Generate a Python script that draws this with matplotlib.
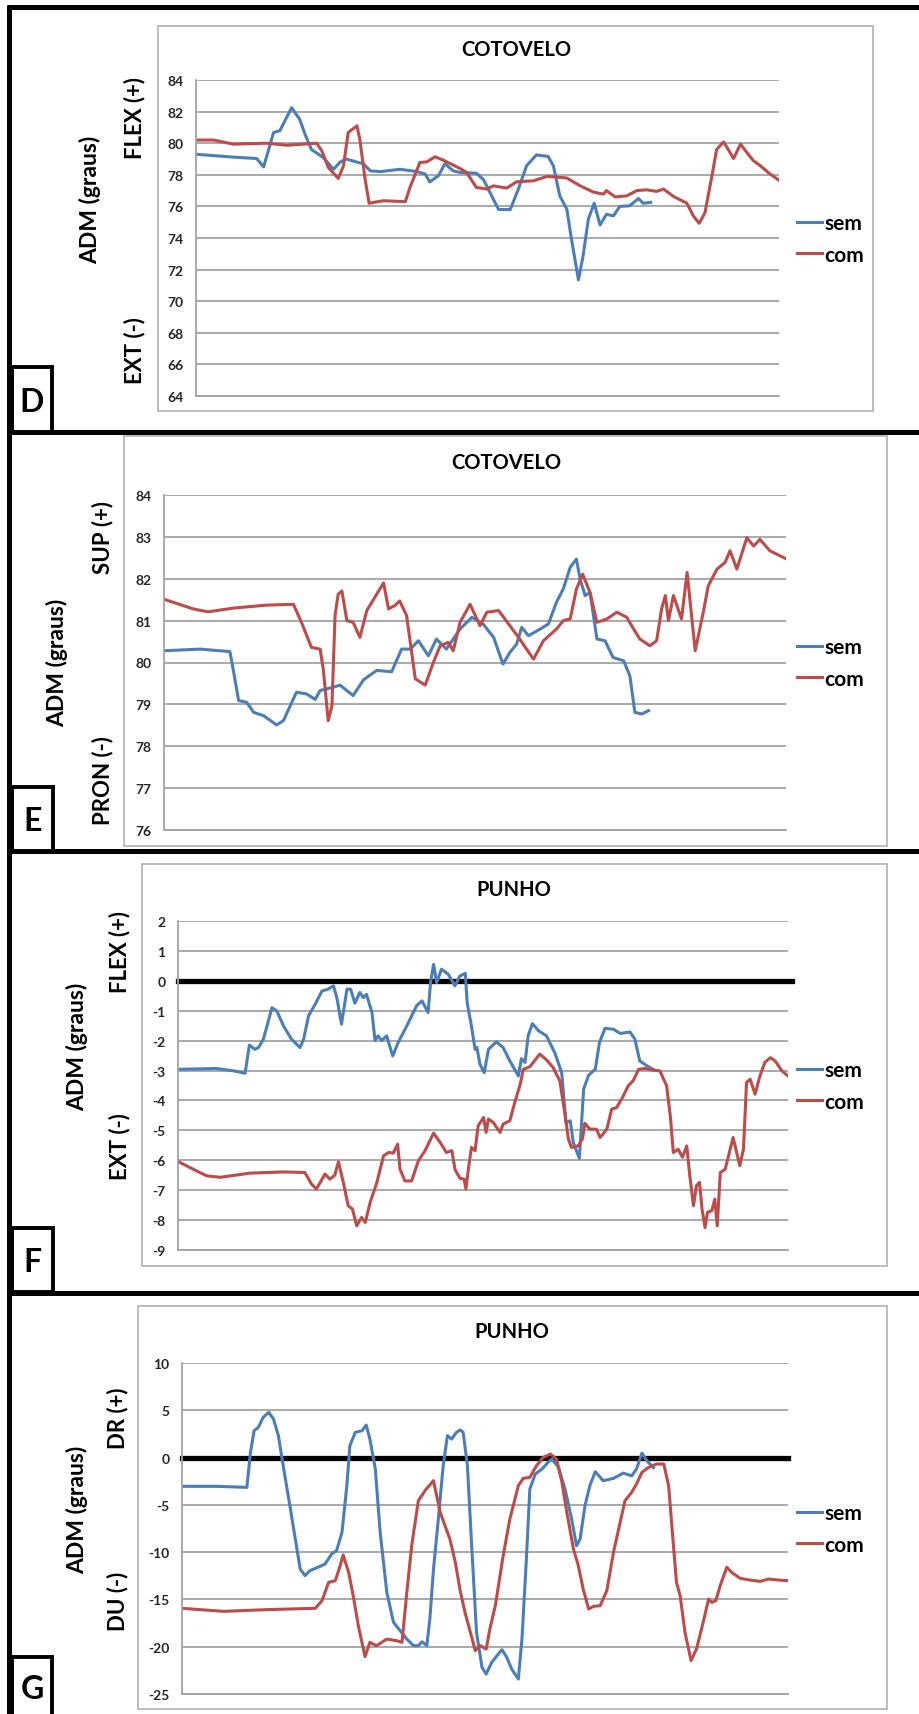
import matplotlib
matplotlib.use("Agg")
import matplotlib.pyplot as plt
from matplotlib.patches import Rectangle
from matplotlib.lines import Line2D

plt.rcParams['font.family'] = ['Lato', 'DejaVu Sans']
plt.rcParams['font.weight'] = 'bold'
plt.rcParams['axes.unicode_minus'] = False

# ---- data (x = sample index, 0..1000 across the plot) ----
# D: cotovelo flex/ext
D_SEM_X = [0, 64, 104, 116, 133, 144, 164, 178, 187, 198, 218, 236, 247, 258, 276, 287, 299, 316, 350, 379,
           393, 401, 416, 427, 441, 453, 481, 493, 504, 519, 539, 553, 567, 584, 604, 613, 624, 636, 644, 656,
           664, 673, 683, 693, 704, 716, 727, 744, 759, 767, 780]
D_SEM = [79.3, 79.12, 79.03, 78.5, 80.67, 80.8, 82.25, 81.5, 80.57, 79.6, 79.1, 78.35, 78.8, 79.0, 78.8, 78.7,
         78.25, 78.2, 78.35, 78.2, 78.05, 77.55, 77.95, 78.7, 78.25, 78.15, 78.1, 77.7, 76.9, 75.8, 75.8, 77.1,
         78.57, 79.26, 79.16, 78.57, 76.67, 75.83, 73.94, 71.35, 72.88, 75.2, 76.2, 74.82, 75.5, 75.4, 76.0,
         76.04, 76.5, 76.2, 76.25]
D_COM_X = [0, 30, 64, 121, 156, 207, 216, 227, 244, 253, 261, 276, 281, 290, 297, 321, 359, 367, 384, 396,
           410, 424, 453, 464, 481, 499, 510, 533, 550, 579, 602, 636, 659, 682, 699, 704, 719, 739, 756, 773,
           790, 802, 819, 842, 853, 863, 873, 885, 893, 905, 913, 922, 934, 945, 956, 967, 985, 1000]
D_COM = [80.2, 80.2, 79.94, 80.0, 79.87, 80.0, 79.5, 78.46, 77.77, 78.57, 80.67, 81.1, 80.25, 77.73, 76.2,
         76.36, 76.3, 77.2, 78.78, 78.82, 79.14, 78.93, 78.4, 78.15, 77.2, 77.1, 77.3, 77.16, 77.56, 77.62,
         77.9, 77.8, 77.3, 76.9, 76.78, 77.0, 76.6, 76.67, 77.0, 77.05, 76.95, 77.1, 76.63, 76.2, 75.4, 74.93,
         75.6, 77.94, 79.6, 80.08, 79.6, 79.03, 79.94, 79.4, 78.9, 78.6, 78.04, 77.66]

# E: cotovelo sup/pron
E_SEM_X = [0, 58, 106, 112, 120, 133, 144, 160, 181, 192, 203, 213, 229, 243, 251, 272, 283, 304, 321, 342,
           366, 382, 396, 409, 425, 438, 454, 476, 495, 513, 530, 545, 556, 567, 575, 586, 605, 618, 631, 642,
           653, 663, 669, 677, 685, 696, 709, 722, 739, 749, 757, 768, 779]
E_SEM = [80.28, 80.32, 80.26, 79.77, 79.09, 79.05, 78.81, 78.73, 78.51, 78.61, 78.97, 79.29, 79.25, 79.12,
         79.33, 79.41, 79.46, 79.21, 79.59, 79.81, 79.78, 80.32, 80.32, 80.52, 80.16, 80.56, 80.32, 80.8,
         81.08, 80.92, 80.6, 79.96, 80.24, 80.44, 80.84, 80.64, 80.8, 80.92, 81.44, 81.76, 82.27, 82.47,
         81.99, 81.6, 81.67, 80.56, 80.52, 80.12, 80.04, 79.68, 78.81, 78.77, 78.85]
E_COM_X = [0, 47, 71, 112, 165, 208, 221, 237, 251, 256, 264, 270, 275, 280, 286, 294, 304, 315, 326, 337,
           353, 361, 371, 379, 390, 404, 420, 433, 444, 457, 465, 476, 492, 508, 519, 538, 556, 570, 594, 610,
           631, 642, 653, 663, 673, 685, 696, 712, 728, 744, 755, 765, 781, 792, 800, 806, 811, 819, 832, 841,
           854, 867, 875, 889, 902, 910, 921, 937, 948, 958, 974, 990, 1000]
E_COM = [81.51, 81.28, 81.21, 81.3, 81.37, 81.39, 80.96, 80.36, 80.32, 79.85, 78.61, 78.97, 81.12, 81.63,
         81.71, 81.0, 80.96, 80.6, 81.24, 81.51, 81.9, 81.28, 81.36, 81.47, 81.12, 79.61, 79.46, 80.0, 80.4,
         80.48, 80.28, 80.96, 81.39, 80.88, 81.2, 81.24, 80.88, 80.6, 80.08, 80.52, 80.8, 81.0, 81.04, 81.75,
         82.11, 81.67, 80.96, 81.04, 81.2, 81.08, 80.8, 80.56, 80.4, 80.52, 81.28, 81.6, 81.0, 81.6, 81.04,
         82.15, 80.28, 81.2, 81.83, 82.23, 82.39, 82.67, 82.23, 82.98, 82.78, 82.94, 82.67, 82.55, 82.48]

# F: punho flex/ext
F_SEM_X = [0, 63, 91, 110, 117, 126, 132, 140, 154, 162, 173, 186, 200, 206, 214, 225, 236, 246, 255, 261,
           268, 277, 283, 290, 298, 304, 309, 318, 323, 328, 334, 342, 352, 361, 375, 391, 400, 410, 414, 419,
           424, 432, 443, 454, 462, 471, 474, 481, 487, 490, 495, 502, 509, 522, 533, 544, 558, 563, 569, 574,
           581, 591, 604, 618, 629, 636, 643, 648, 658, 665, 673, 684, 691, 700, 714, 725, 741, 749, 757, 771,
           779]
F_SEM = [-2.96, -2.93, -3.01, -3.09, -2.15, -2.29, -2.23, -1.95, -0.9, -1.01, -1.51, -1.95, -2.23, -1.95,
         -1.17, -0.78, -0.34, -0.28, -0.17, -0.62, -1.45, -0.28, -0.28, -0.75, -0.39, -0.56, -0.45, -1.06,
         -2.0, -1.84, -2.0, -1.84, -2.51, -2.06, -1.51, -0.84, -0.67, -1.06, -0.06, 0.55, -0.06, 0.39, 0.22,
         -0.17, 0.16, 0.25, -0.73, -1.51, -2.29, -2.23, -2.79, -3.07, -2.29, -2.04, -2.23, -2.68, -3.18,
         -2.6, -2.73, -1.84, -1.43, -1.67, -1.84, -2.42, -3.07, -4.74, -4.68, -5.41, -5.94, -3.62, -3.16,
         -2.96, -2.06, -1.59, -1.62, -1.76, -1.71, -1.95, -2.68, -2.87, -2.96]
F_COM_X = [0, 25, 47, 69, 118, 173, 208, 219, 227, 241, 249, 257, 263, 271, 279, 286, 293, 301, 307, 315,
           326, 337, 345, 353, 360, 364, 372, 383, 394, 405, 419, 430, 440, 449, 454, 462, 469, 472, 476, 481,
           487, 492, 501, 505, 509, 517, 528, 533, 544, 552, 561, 566, 577, 593, 604, 615, 626, 634, 640, 645,
           656, 663, 667, 675, 686, 692, 703, 711, 719, 730, 738, 746, 755, 766, 777, 790, 801, 807, 812, 820,
           827, 834, 839, 845, 850, 855, 859, 864, 868, 875, 880, 884, 889, 897, 910, 921, 927, 932, 938, 946,
           954, 962, 971, 979, 990, 1000]
F_COM = [-6.04, -6.3, -6.52, -6.57, -6.43, -6.39, -6.41, -6.8, -6.96, -6.46, -6.63, -6.5, -6.05, -6.74,
         -7.52, -7.63, -8.19, -7.91, -8.08, -7.41, -6.74, -5.85, -5.74, -5.76, -5.46, -6.3, -6.69, -6.69,
         -6.02, -5.68, -5.09, -5.41, -5.74, -5.68, -6.3, -6.6, -6.63, -6.96, -6.3, -5.57, -5.68, -4.85, -4.57,
         -5.07, -4.62, -4.74, -5.07, -4.79, -4.68, -4.07, -3.46, -2.96, -2.87, -2.45, -2.64, -2.9, -3.35,
         -4.4, -5.29, -5.57, -5.52, -5.29, -4.76, -4.96, -4.96, -5.24, -4.96, -4.29, -4.24, -3.85, -3.51,
         -3.35, -2.96, -2.93, -2.98, -3.01, -3.51, -4.51, -5.74, -5.63, -5.9, -5.52, -6.52, -7.52, -6.85,
         -6.74, -7.63, -8.25, -7.74, -7.69, -7.3, -8.19, -6.41, -6.3, -5.24, -6.18, -5.63, -3.4, -3.29, -3.79,
         -3.18, -2.73, -2.57, -2.68, -3.01, -3.18]

# G: punho desvio radial/ulnar
G_SEM_X = [0, 57, 107, 113, 119, 126, 134, 143, 151, 159, 167, 178, 187, 195, 203, 211, 228, 236, 247, 255,
           264, 272, 277, 286, 297, 304, 310, 319, 327, 338, 349, 360, 371, 382, 390, 396, 404, 409, 415, 423,
           431, 438, 445, 453, 459, 464, 471, 478, 486, 495, 502, 511, 522, 528, 536, 544, 555, 561, 568, 574,
           583, 594, 605, 610, 621, 632, 643, 651, 657, 665, 673, 682, 695, 712, 728, 742, 750, 759, 767, 778]
G_SEM = [-3.04, -3.04, -3.15, 0.55, 2.84, 3.2, 4.25, 4.78, 4.08, 2.32, -0.86, -5.09, -8.61, -11.78, -12.49,
         -11.96, -11.5, -11.25, -10.2, -9.84, -7.91, -2.97, 1.26, 2.67, 2.84, 3.44, 1.96, -1.21, -7.91, -14.25,
         -17.42, -18.3, -19.19, -19.89, -19.89, -19.47, -19.89, -17.07, -11.78, -6.5, -0.86, 2.32, 1.96, 2.67,
         2.92, 2.67, -0.86, -9.32, -18.48, -22.18, -22.89, -21.66, -20.77, -20.31, -21.13, -22.36, -23.42,
         -19.19, -11.07, -3.32, -1.74, -1.21, -0.43, -0.15, -0.99, -3.32, -6.5, -9.32, -8.61, -5.09, -2.97,
         -1.49, -2.45, -2.2, -1.64, -1.93, -1.21, 0.48, -0.33, -1.06]
G_COM_X = [0, 68, 140, 220, 231, 242, 253, 261, 266, 275, 283, 291, 302, 310, 321, 338, 354, 363, 371, 379,
           390, 401, 415, 426, 442, 451, 459, 467, 484, 492, 502, 508, 517, 530, 541, 555, 563, 574, 585, 596,
           608, 618, 627, 635, 646, 654, 662, 671, 679, 690, 701, 712, 723, 731, 742, 750, 759, 770, 783, 795,
           803, 811, 816, 822, 830, 840, 849, 860, 869, 874, 881, 888, 899, 907, 921, 937, 954, 968, 984, 1000]
G_COM = [-15.94, -16.26, -16.08, -15.94, -15.13, -13.19, -13.02, -11.43, -10.3, -12.14, -14.78, -17.78,
         -21.05, -19.54, -19.89, -19.19, -19.36, -19.54, -14.25, -9.32, -4.56, -3.5, -2.44, -5.79, -8.61,
         -11.07, -14.07, -16.37, -20.42, -19.89, -20.24, -18.13, -15.66, -10.37, -6.5, -2.97, -2.2, -2.09,
         -0.86, 0.02, 0.37, -0.15, -2.62, -5.79, -9.67, -11.43, -13.9, -16.01, -15.73, -15.66, -14.07, -10.02,
         -6.85, -4.56, -3.68, -2.8, -1.56, -1.04, -0.68, -0.68, -2.97, -9.32, -13.19, -14.6, -18.48, -21.47,
         -20.24, -17.42, -14.96, -15.31, -15.13, -13.55, -11.6, -12.14, -12.77, -12.95, -13.09, -12.84,
         -12.95, -13.02]

SERIES_NAMES = ['sem', 'com']
LETTERS = ['D', 'E', 'F', 'G']
TITLES = ['COTOVELO', 'COTOVELO', 'PUNHO', 'PUNHO']
POS_LABELS = ['FLEX (+)', 'SUP (+)', 'FLEX (+)', 'DR (+)']
NEG_LABELS = ['EXT (-)', 'PRON (-)', 'EXT (-)', 'DU (-)']
YLIMS = [(64, 84), (76, 84), (-9, 2), (-25, 10)]
YSTEPS = [2, 1, 1, 5]

# ---- layout in reference pixels ----
W, H = 920, 1715
BLUE = '#4A7EBB'
RED = '#BE4B48'
GRID = '#A3A3A3'

layout = [
    dict(frame=(158, 27, 873, 412), plot=(196, 81, 779, 397), title=(516, 50), adm=(90, 200),
         side_x=135, pos_y=118, neg_y=351, leg_y=240, box=(12, 368, 52, 433), zero=None),
    dict(frame=(124, 437, 887, 847), plot=(164, 496, 786, 831), title=(506, 463), adm=(57, 663),
         side_x=103, pos_y=538, neg_y=781, leg_y=664, box=(12, 788, 53, 852), zero=None),
    dict(frame=(142, 865, 887, 1267), plot=(178, 922, 788, 1251), title=(514, 890), adm=(77, 1047),
         side_x=120, pos_y=952, neg_y=1147, leg_y=1087, box=(12, 1229, 53, 1293), zero=1.006),
    dict(frame=(138, 1307, 887, 1710), plot=(182, 1364, 788, 1695), title=(512, 1332), adm=(77, 1510),
         side_x=118, pos_y=1418, neg_y=1601, leg_y=1530, box=(12, 1658, 52, 1717), zero=1.0),
]
data = [(D_SEM_X, D_SEM, D_COM_X, D_COM), (E_SEM_X, E_SEM, E_COM_X, E_COM),
        (F_SEM_X, F_SEM, F_COM_X, F_COM), (G_SEM_X, G_SEM, G_COM_X, G_COM)]


def fx(x):
    return x / W


def fy(y):
    return 1 - y / H


def rect(x0, y0, x1, y1):
    return [fx(x0), fy(y1), (x1 - x0) / W, (y1 - y0) / H]


fig = plt.figure(figsize=(W / 100, H / 100), dpi=100)
fig.patch.set_facecolor('white')

for i, lay in enumerate(layout):
    xs, ys, xc, yc = data[i]

    # chart area frame
    x0, y0, x1, y1 = lay['frame']
    fig.add_artist(Rectangle((fx(x0), fy(y1)), (x1 - x0) / W, (y1 - y0) / H,
                             transform=fig.transFigure, fill=False, ec='#B0B0B0', lw=1.2))

    ax = fig.add_axes(rect(*lay['plot']))
    lo, hi = YLIMS[i]
    ax.set_xlim(0, 1000)
    ax.set_ylim(lo, hi)
    ax.set_yticks(range(lo, hi + 1, YSTEPS[i]))
    ax.set_xticks([])
    ax.grid(axis='y', color=GRID, lw=1.3)
    ax.set_axisbelow(True)
    for s in ['top', 'right']:
        ax.spines[s].set_visible(False)
    for s in ['left', 'bottom']:
        ax.spines[s].set_color(GRID)
        ax.spines[s].set_linewidth(1.3)
    ax.tick_params(axis='y', length=0, pad=9, labelsize=10, labelcolor='#262626')

    if lay['zero'] is not None:
        ax.axhline(0, xmin=0, xmax=lay['zero'], color='black', lw=3.8, clip_on=False, zorder=1.5)

    ax.plot(xs, ys, color=BLUE, lw=2.2, label=SERIES_NAMES[0], solid_joinstyle='round')
    ax.plot(xc, yc, color=RED, lw=2.2, label=SERIES_NAMES[1], solid_joinstyle='round')

    ax.legend(loc='center left', bbox_to_anchor=(fx(797), fy(lay['leg_y'])),
              bbox_transform=fig.transFigure, frameon=False, fontsize=15,
              handlelength=1.2, handletextpad=0.12, labelspacing=0.55,
              borderpad=0, borderaxespad=0)

    tx, ty = lay['title']
    fig.text(fx(tx), fy(ty), TITLES[i], ha='center', va='center', fontsize=14.5, weight='bold')

    ax_, ay_ = lay['adm']
    fig.text(fx(ax_), fy(ay_), 'ADM (graus)', rotation=90, ha='center', va='center',
             fontsize=16.5, weight='bold')
    fig.text(fx(lay['side_x']), fy(lay['pos_y']), POS_LABELS[i], rotation=90, ha='center',
             va='center', fontsize=16, weight='bold')
    fig.text(fx(lay['side_x']), fy(lay['neg_y']), NEG_LABELS[i], rotation=90, ha='center',
             va='center', fontsize=16, weight='bold')

    # letter box
    bx0, by0, bx1, by1 = lay['box']
    fig.add_artist(Rectangle((fx(bx0), fy(by1)), (bx1 - bx0) / W, (by1 - by0) / H,
                             transform=fig.transFigure, fc='white', ec='black', lw=2.8, zorder=5))
    fig.text(fx((bx0 + bx1) / 2), fy((by0 + by1) / 2 + 2), LETTERS[i], ha='center', va='center',
             fontsize=23, weight='bold', zorder=6)

# panel separators
for yy in [7.5, 433, 852, 1293.5]:
    fig.add_artist(Line2D([fx(7), 1], [fy(yy), fy(yy)], color='black', lw=3.6,
                          transform=fig.transFigure, solid_capstyle='butt'))
fig.add_artist(Line2D([fx(9.5), fx(9.5)], [fy(5.5), 0], color='black', lw=3.6,
                      transform=fig.transFigure, solid_capstyle='butt'))

fig.savefig('out.png', dpi=100, facecolor='white')
